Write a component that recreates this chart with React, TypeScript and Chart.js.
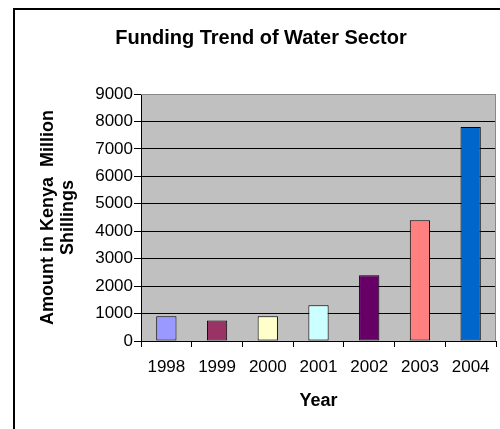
import React, { useEffect, useRef } from "react";
import { Chart, registerables } from "chart.js";

Chart.register(...registerables);

const years = ["1998", "1999", "2000", "2001", "2002", "2003", "2004"];
const funding = [900, 750, 900, 1300, 2400, 4400, 7800];
const barColors = ["#9999FF", "#993366", "#FFFFCC", "#CCFFFF", "#660066", "#FF8080", "#0066CC"];
const chartTitle = "Funding Trend of Water Sector";
const yTitle = ["Amount in Kenya  Million", "Shillings"];
const xTitle = "Year";

const FONT = "'Liberation Sans', Arial, sans-serif";

// Gray plot area with a gray outline on the top and right edges, plus the chart heading.
const plotFrame = {
  id: "plotFrame",
  beforeDraw(chart: any) {
    const { ctx, chartArea: a } = chart;
    ctx.save();
    ctx.fillStyle = "#C0C0C0";
    ctx.fillRect(a.left, a.top, a.right - a.left, a.bottom - a.top);
    ctx.restore();
  },
  afterDraw(chart: any) {
    const { ctx, chartArea: a } = chart;
    ctx.save();
    ctx.strokeStyle = "#888888";
    ctx.lineWidth = 1;
    ctx.beginPath();
    ctx.moveTo(a.left, a.top + 0.5);
    ctx.lineTo(a.right - 0.5, a.top + 0.5);
    ctx.lineTo(a.right - 0.5, a.bottom);
    ctx.stroke();
    ctx.fillStyle = "#000";
    ctx.font = `bold 20px ${FONT}`;
    ctx.textAlign = "center";
    ctx.textBaseline = "middle";
    ctx.fillText(chartTitle, 261, 38);
    ctx.restore();
  },
};

export default function App() {
  const canvasRef = useRef<HTMLCanvasElement | null>(null);

  useEffect(() => {
    if (!canvasRef.current) return;
    const chart = new Chart(canvasRef.current, {
      type: "bar",
      data: {
        labels: years,
        datasets: [
          {
            data: funding,
            backgroundColor: barColors,
            borderColor: "#000",
            borderWidth: 1,
            borderSkipped: false,
            barPercentage: 0.4,
            categoryPercentage: 1,
          },
        ],
      },
      options: {
        responsive: false,
        animation: false,
        layout: { padding: { top: 94, right: 4, left: 0, bottom: 0 } },
        plugins: {
          legend: { display: false },
          tooltip: { enabled: false },
          title: { display: false },
        },
        scales: {
          x: {
            afterFit(scale: any) {
              scale.height = 88;
            },
            grid: {
              offset: true,
              drawOnChartArea: false,
              color: "#000",
              tickLength: 6,
            },
            border: { color: "#000", width: 1 },
            ticks: { color: "#000", font: { family: FONT, size: 17 }, padding: 10 },
            title: {
              display: true,
              text: xTitle,
              color: "#000",
              font: { family: FONT, size: 18, weight: "bold" },
              padding: { top: 0, bottom: 17 },
            },
          },
          y: {
            min: 0,
            max: 9000,
            afterFit(scale: any) {
              scale.width = 141;
            },
            grid: {
              color: (c: any) => (c.tick && c.tick.value === 9000 ? "#888888" : "#000"),
              tickColor: "#000",
              tickLength: 7,
            },
            border: { color: "#000", width: 1 },
            ticks: {
              stepSize: 1000,
              color: "#000",
              font: { family: FONT, size: 17 },
              padding: 1,
              callback: (v: any) => String(v),
            },
            title: {
              display: true,
              text: yTitle,
              color: "#000",
              font: { family: FONT, size: 18, weight: "bold", lineHeight: 1.1 },
              padding: { top: 38, bottom: 0 },
            },
          },
        },
      },
      plugins: [plotFrame],
    });
    return () => chart.destroy();
  }, []);

  return (
    <div style={{ position: "absolute", left: 0, top: 0, width: 500, height: 429, overflow: "hidden", background: "#fff" }}>
      <div
        style={{
          position: "absolute",
          left: 13,
          top: 8,
          width: 600,
          height: 600,
          border: "2px solid #000",
        }}
      />
      <canvas ref={canvasRef} width={500} height={429} style={{ position: "absolute", left: 0, top: 0 }} />
    </div>
  );
}
